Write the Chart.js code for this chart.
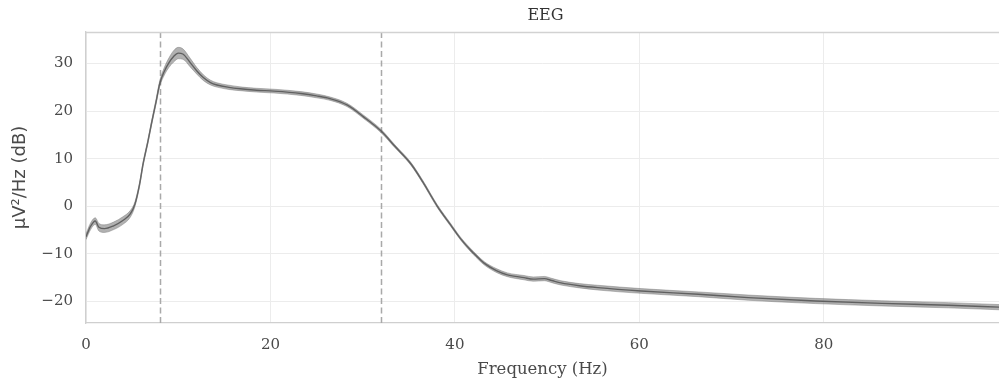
<!DOCTYPE html>
<html>
<head>
<meta charset="utf-8">
<script src="https://cdn.jsdelivr.net/npm/chart.js@4/dist/chart.umd.min.js"></script>
<style>
html,body{margin:0;padding:0;background:#fff;}
#wrap{width:999px;height:388px;position:relative;}
</style>
</head>
<body>
<div id="wrap"><canvas id="c" width="999" height="388"></canvas></div>
<script>
const freqs = [0, 0.5, 1.0, 1.4, 2, 3, 4, 4.8, 5.3, 5.8, 6.2, 6.7, 7.1, 7.6, 8.0, 8.5, 9.0, 9.5, 10.0, 10.5, 11.3, 12, 12.75, 13.5, 14.2, 15.5, 16.7, 18.5, 20.4, 23.3, 25, 26.5, 28.3, 30.1, 32, 33.5, 35.2, 36.5, 38.1, 39.5, 40.7, 42, 43.2, 44.5, 45.7, 47.5, 48.5, 49.7, 50.5, 51.5, 53.5, 55.5, 60.2, 66.4, 71.8, 79.1, 86.3, 93.5, 99];
const psdMean = [-6.4, -4.2, -3.1, -4.4, -4.7, -4.1, -3.0, -1.6, 0.4, 4.5, 9.0, 13.5, 17.4, 22.0, 25.8, 28.4, 30.2, 31.5, 32.2, 32.0, 30.2, 28.5, 27.0, 26.0, 25.5, 25.0, 24.7, 24.4, 24.2, 23.7, 23.2, 22.6, 21.3, 18.8, 15.8, 12.6, 9.0, 5.2, 0.0, -3.8, -7.0, -9.8, -12.0, -13.5, -14.4, -15.0, -15.3, -15.2, -15.6, -16.1, -16.7, -17.1, -17.8, -18.5, -19.2, -19.9, -20.4, -20.8, -21.2];
const psdSpread = [0.6, 0.7, 0.7, 0.8, 0.8, 0.8, 0.8, 0.7, 0.5, 0.4, 0.4, 0.4, 0.4, 0.5, 0.6, 0.8, 1.0, 1.2, 1.2, 1.1, 0.9, 0.7, 0.6, 0.5, 0.45, 0.45, 0.4, 0.4, 0.4, 0.4, 0.4, 0.35, 0.35, 0.35, 0.35, 0.3, 0.3, 0.3, 0.3, 0.3, 0.3, 0.35, 0.35, 0.4, 0.4, 0.45, 0.45, 0.45, 0.45, 0.45, 0.45, 0.5, 0.5, 0.5, 0.55, 0.55, 0.55, 0.55, 0.55];
const bandEdges = [8, 32];
const xTicks = [0, 20, 40, 60, 80];
const yTicks = [-20, -10, 0, 10, 20, 30];
const xRange = [0, 99];
const yRange = [-24.53, 36.63];
const titleText = 'EEG';

const pts = (arr) => freqs.map((f, i) => ({x: f, y: arr[i]}));
const lower = psdMean.map((v, i) => v - psdSpread[i]);
const upper = psdMean.map((v, i) => v + psdSpread[i]);

const serif = "'DejaVu Serif', serif";
const sans = "'DejaVu Sans', sans-serif";

const framePlugin = {
  id: 'frame',
  beforeDatasetsDraw(chart) {
    const {ctx, chartArea: a, scales} = chart;
    ctx.save();
    ctx.strokeStyle = '#a9a9a9';
    ctx.lineWidth = 1.5;
    ctx.setLineDash([6, 3.5]);
    bandEdges.forEach(f => {
      const x = Math.round(scales.x.getPixelForValue(f)) + 0.5;
      ctx.beginPath();
      ctx.moveTo(x, a.top);
      ctx.lineTo(x, a.bottom);
      ctx.stroke();
    });
    ctx.restore();
  },
  afterDraw(chart) {
    const {ctx, chartArea: a} = chart;
    ctx.save();
    ctx.strokeStyle = '#d2d2d2';
    ctx.lineWidth = 1.3;
    ctx.beginPath();
    ctx.moveTo(a.left, a.top + 0.5);
    ctx.lineTo(a.right, a.top + 0.5);
    ctx.stroke();
    ctx.fillStyle = '#333';
    ctx.font = "16px " + serif;
    ctx.textAlign = 'center';
    ctx.textBaseline = 'middle';
    ctx.fillText(titleText, (a.left + a.right) / 2 + 3, 16);
    ctx.restore();
  }
};

new Chart(document.getElementById('c'), {
  type: 'line',
  data: {
    datasets: [
      {data: pts(lower), borderColor: 'rgba(110,110,110,0.6)', borderWidth: 0.7, pointRadius: 0, fill: false, tension: 0.4, cubicInterpolationMode: 'monotone'},
      {data: pts(upper), borderColor: 'rgba(110,110,110,0.6)', borderWidth: 0.7, pointRadius: 0, fill: '-1', backgroundColor: 'rgba(100,100,100,0.5)', tension: 0.4, cubicInterpolationMode: 'monotone'},
      {data: pts(psdMean), borderColor: 'rgba(75,75,75,0.9)', borderWidth: 1.4, pointRadius: 0, fill: false, tension: 0.4, cubicInterpolationMode: 'monotone'}
    ]
  },
  options: {
    responsive: false,
    animation: false,
    events: [],
    layout: {padding: {left: 0, right: 0, top: 32, bottom: 0}},
    plugins: {
      legend: {display: false},
      tooltip: {enabled: false},
      title: {display: false}
    },
    scales: {
      x: {
        type: 'linear', min: xRange[0], max: xRange[1],
        afterBuildTicks: s => { s.ticks = xTicks.map(v => ({value: v})); },
        afterFit: s => { s.height = 65; },
        grid: {color: '#ececec', lineWidth: 1, drawTicks: false},
        border: {color: '#cfcfcf', width: 1.3},
        ticks: {color: '#4a4a4a', padding: 13, font: {family: serif, size: 15}},
        title: {display: true, text: 'Frequency (Hz)', color: '#4a4a4a', font: {family: serif, size: 16.5}, padding: {top: 4, bottom: 8}}
      },
      y: {
        type: 'linear', min: yRange[0], max: yRange[1],
        afterBuildTicks: s => { s.ticks = yTicks.map(v => ({value: v})); },
        afterFit: s => { s.width = 86; },
        grid: {color: '#ececec', lineWidth: 1, drawTicks: false},
        border: {color: '#cfcfcf', width: 1.3},
        ticks: {color: '#4a4a4a', padding: 13, font: {family: serif, size: 15},
          callback: v => (v < 0 ? '\u2212' + Math.abs(v) : String(v))},
        title: {display: true, text: 'µV²/Hz (dB)', color: '#4a4a4a', font: {family: sans, size: 18}, padding: {top: 10, bottom: 4}}
      }
    }
  },
  plugins: [framePlugin]
});
</script>
</body>
</html>
